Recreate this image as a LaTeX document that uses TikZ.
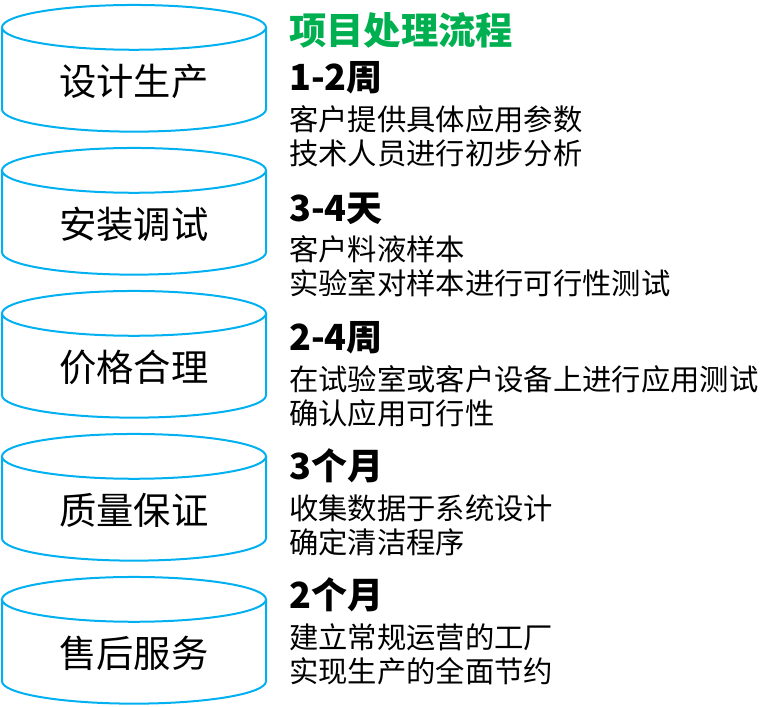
\documentclass[tikz,border=0pt]{standalone}
\usepackage{fontspec}
\setmainfont{Noto Sans CJK SC}
\usetikzlibrary{shapes.geometric,positioning}
\definecolor{stageblue}{HTML}{00B0F0}
\definecolor{titlegreen}{HTML}{00B050}
\tikzset{
  stagebox/.style={draw=stageblue, line width=1.5pt, shape=cylinder, shape border rotate=90,
    aspect=0.3, minimum width=198pt, minimum height=95pt, inner sep=0pt,
    font=\fontsize{28}{30}\selectfont, text depth=0pt},
  periodtext/.style={anchor=west, inner sep=0pt, font=\fontsize{27}{29}\selectfont\bfseries},
  detailtext/.style={anchor=north west, inner sep=0pt, align=left,
    font=\fontsize{22}{25.5}\selectfont}
}
\begin{document}
\begin{tikzpicture}[x=0.75pt, y=-0.75pt]
  \useasboundingbox (0,0) rectangle (772,707);
  \node[stagebox] (design)  at (134,80)  {设计生产};
  \node[stagebox] (install) at (134,223) {安装调试};
  \node[stagebox] (price)   at (134,366) {价格合理};
  \node[stagebox] (quality) at (134,509) {质量保证};
  \node[stagebox] (service) at (134,652) {售后服务};

  \node[anchor=west, inner sep=0pt, text=titlegreen, font=\fontsize{28}{30}\selectfont\bfseries]
    (title) at (289,30) {项目处理流程};

  \node[periodtext] (period1) at (289,78)  {1-2周};
  \node[detailtext, below=8pt of period1.south west, anchor=north west] (detail1) {客户提供具体应用参数\\技术人员进行初步分析};
  \node[periodtext] (period2) at (289,209) {3-4天};
  \node[detailtext, below=8pt of period2.south west, anchor=north west] (detail2) {客户料液样本\\实验室对样本进行可行性测试};
  \node[periodtext] (period3) at (289,338) {2-4周};
  \node[detailtext, below=8pt of period3.south west, anchor=north west] (detail3) {在试验室或客户设备上进行应用测试\\确认应用可行性};
  \node[periodtext] (period4) at (289,466) {3个月};
  \node[detailtext, below=8pt of period4.south west, anchor=north west] (detail4) {收集数据于系统设计\\确定清洁程序};
  \node[periodtext] (period5) at (289,595) {2个月};
  \node[detailtext, below=8pt of period5.south west, anchor=north west] (detail5) {建立常规运营的工厂\\实现生产的全面节约};
\end{tikzpicture}
\end{document}
